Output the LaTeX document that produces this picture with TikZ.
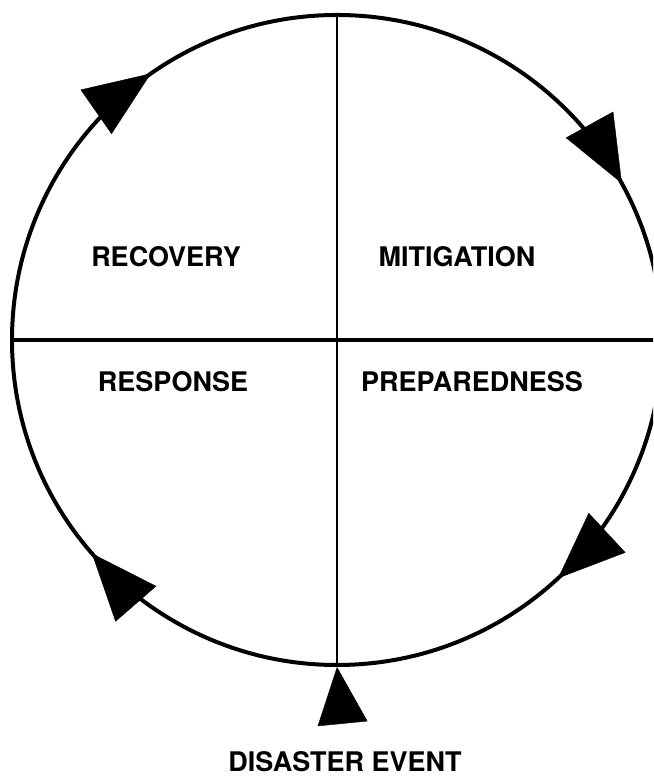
\documentclass[tikz,border=0pt]{standalone}
\usepackage{fontspec}
\setmainfont{TeX Gyre Heros}
\usetikzlibrary{arrows.meta,decorations.markings}

\begin{document}
\begin{tikzpicture}[x=1pt,y=1pt]
\tikzset{phase/.style = {font=\fontsize{27}{32}\selectfont\bfseries}}
\tikzset{flow/.style = {-{Triangle[length=57pt,width=50pt]}}}
\tikzset{head/.tip = {Triangle[length=67pt,width=54pt]}}
\useasboundingbox (0,0) rectangle (653,783);
\clip (0,0) rectangle (653,783);

\node[circle,draw,line width=4pt,minimum size=650pt,inner sep=0pt] (ring) at (337,443) {};
\draw[line width=2.5pt] (ring.north) -- (ring.south);
\draw[line width=4pt] (ring.west) -- (ring.east);

% four heads going round clockwise
\path[decoration={markings,
  mark=at position 0.131 with {\arrow{head}},
  mark=at position 0.386 with {\arrow{head}},
  mark=at position 0.653 with {\arrow{head}},
  mark=at position 0.92 with {\arrow{head}}},
  postaction={decorate}]
  (ring.center) ++(0:325) arc[start angle=0,end angle=-360,radius=325];

\foreach \pos/\name/\lbl in {{(166,526)/recovery/RECOVERY}, {(457,526)/mitigation/MITIGATION},
  {(173,401)/response/RESPONSE}, {(472,401)/preparedness/PREPAREDNESS}}
\node[phase] (\name) at \pos {\lbl};

\node[phase] (event) at (345,21) {DISASTER EVENT};
\draw[flow, shorten <=26pt] (event.north) -- (ring.south);
\end{tikzpicture}
\end{document}
